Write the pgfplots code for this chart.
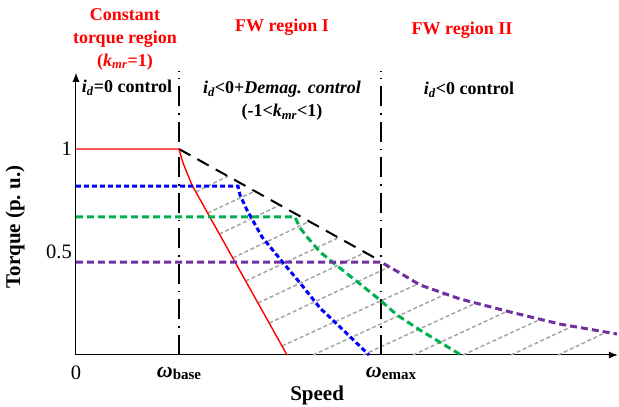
\documentclass[border=0pt]{standalone}
\usepackage{pgfplots}
\pgfplotsset{compat=1.18}
\usetikzlibrary{arrows.meta}
\usepackage{fontspec}
\setmainfont{Liberation Serif}
\definecolor{cred}{RGB}{255,0,0}
\definecolor{cblue}{RGB}{0,0,255}
\definecolor{cgreen}{RGB}{0,176,80}
\definecolor{cpurple}{RGB}{112,48,160}
\definecolor{cgray}{RGB}{166,166,166}
\newcommand{\lbl}{\fontsize{18}{23}\selectfont\bfseries}
\newcommand{\wbase}{{\fontsize{22}{22}\selectfont\bfseries\itshape ω}\raisebox{-2pt}{\fontsize{15}{15}\selectfont\bfseries base}}
\newcommand{\wemax}{{\fontsize{22}{22}\selectfont\bfseries\itshape ω}\raisebox{-2pt}{\fontsize{15}{15}\selectfont\bfseries emax}}
\newcommand{\idd}{\textit{i}\textsubscript{\textit{d}}}
\newcommand{\kmr}{\textit{k}\textsubscript{\textit{mr}}}
\begin{document}
\begin{tikzpicture}
\path[use as bounding box] (0,0) rectangle (619pt,407pt);
\begin{axis}[
  at={(76pt,52pt)}, anchor=south west,
  x=103pt, y=206pt,
  xmin=0, xmax=5.26, ymin=0, ymax=1.37,
  axis lines=left,
  axis line style={line width=1pt, -{Latex[length=9pt,width=7pt]}},
  clip=false,
  xtick={0,1,2.961},
  xticklabels={0, {\wbase}, {\hspace{20pt}\wemax}},
  ytick={0.5,1},
  yticklabels={0.5,1},
  major tick length=0pt,
  tick label style={font=\fontsize{20.5}{21}\selectfont},
  xticklabel style={anchor=center, yshift=-18pt},
  yticklabel style={anchor=east, xshift=-4pt, inner sep=0pt},
  xlabel={Speed}, ylabel={Torque (p.~u.)},
  label style={font=\fontsize{21}{22}\selectfont\bfseries},
  xlabel style={at={(axis description cs:0.445,0)}, anchor=center, yshift=-40pt},
  ylabel style={at={(axis description cs:-0.1125,0.454)}, anchor=center},
]
% hatch lines
\pgfplotsset{hatch/.style={cgray, line width=1.5pt, dash pattern=on 4pt off 2.5pt}}
\addplot[hatch] coordinates {(1.164,0.791) (1.476,0.869)};
\addplot[hatch] coordinates {(1.278,0.689) (1.738,0.796)};
\addplot[hatch] coordinates {(1.392,0.587) (1.981,0.728)};
\addplot[hatch] coordinates {(1.522,0.471) (2.272,0.650)};
\addplot[hatch] coordinates {(1.647,0.359) (2.563,0.573)};
\addplot[hatch] coordinates {(1.767,0.252) (2.816,0.500)};
\addplot[hatch] coordinates {(1.876,0.155) (3.039,0.427)};
\addplot[hatch] coordinates {(2.000,0.044) (3.320,0.345)};
\addplot[hatch] coordinates {(2.301,0) (3.592,0.296)};
\addplot[hatch] coordinates {(2.786,0) (3.883,0.252)};
\addplot[hatch] coordinates {(3.272,0) (4.194,0.214)};
\addplot[hatch] coordinates {(3.757,0) (4.515,0.175)};
\addplot[hatch] coordinates {(4.223,0) (4.825,0.141)};
\addplot[hatch] coordinates {(4.680,0) (5.155,0.112)};
% vertical region borders
\addplot[black, line width=1.4pt, dash pattern=on 20pt off 7pt on 1.5pt off 7pt] coordinates {(1,0) (1,1.38)};
\addplot[black, line width=1.4pt, dash pattern=on 20pt off 7pt on 1.5pt off 7pt] coordinates {(2.961,0) (2.961,1.38)};
% black dashed envelope
\addplot[black, line width=2pt, dash pattern=on 13pt off 8pt] coordinates {(1,1) (2.961,0.455)};
% red
\addplot[cred, line width=1.4pt] coordinates {(0,1) (1,1) (1.039,0.932) (1.126,0.825) (2.049,0)};
% blue
\addplot[cblue, line width=3pt, dash pattern=on 5pt off 3pt] coordinates {(0,0.82) (1.573,0.82) (1.592,0.777) (1.660,0.704) (1.806,0.573) (1.981,0.466) (2.175,0.350) (2.369,0.228) (2.563,0.136) (2.845,0)};
% green
\addplot[cgreen, line width=3pt, dash pattern=on 7pt off 4pt] coordinates {(0,0.67) (2.126,0.670) (2.175,0.617) (2.252,0.568) (2.369,0.500) (2.563,0.422) (2.757,0.345) (2.951,0.267) (3.117,0.194) (3.340,0.121) (3.738,0)};
% purple
\addplot[cpurple, line width=3pt, dash pattern=on 7pt off 4pt] coordinates {(0,0.451) (2.961,0.451) (3.146,0.398) (3.340,0.340) (3.728,0.272) (4.214,0.209) (4.699,0.150) (5.252,0.102)};
\end{axis}
\node[font=\lbl, text=cred, align=center] at (125pt,368pt) {Constant\\torque region\\(\kmr=1)};
\node[font=\lbl, text=cred] at (282pt,380pt) {FW region I};
\node[font=\lbl, text=cred] at (462pt,377pt) {FW region II};
\node[font=\lbl] at (127pt,319pt) {\idd=0 control};
\node[font=\lbl, align=center] at (282pt,306pt) {\idd<0+\textit{Demag. control}\\(-1<\kmr<1)};
\node[font=\lbl] at (469pt,317pt) {\idd<0 control};
\end{tikzpicture}
\end{document}
